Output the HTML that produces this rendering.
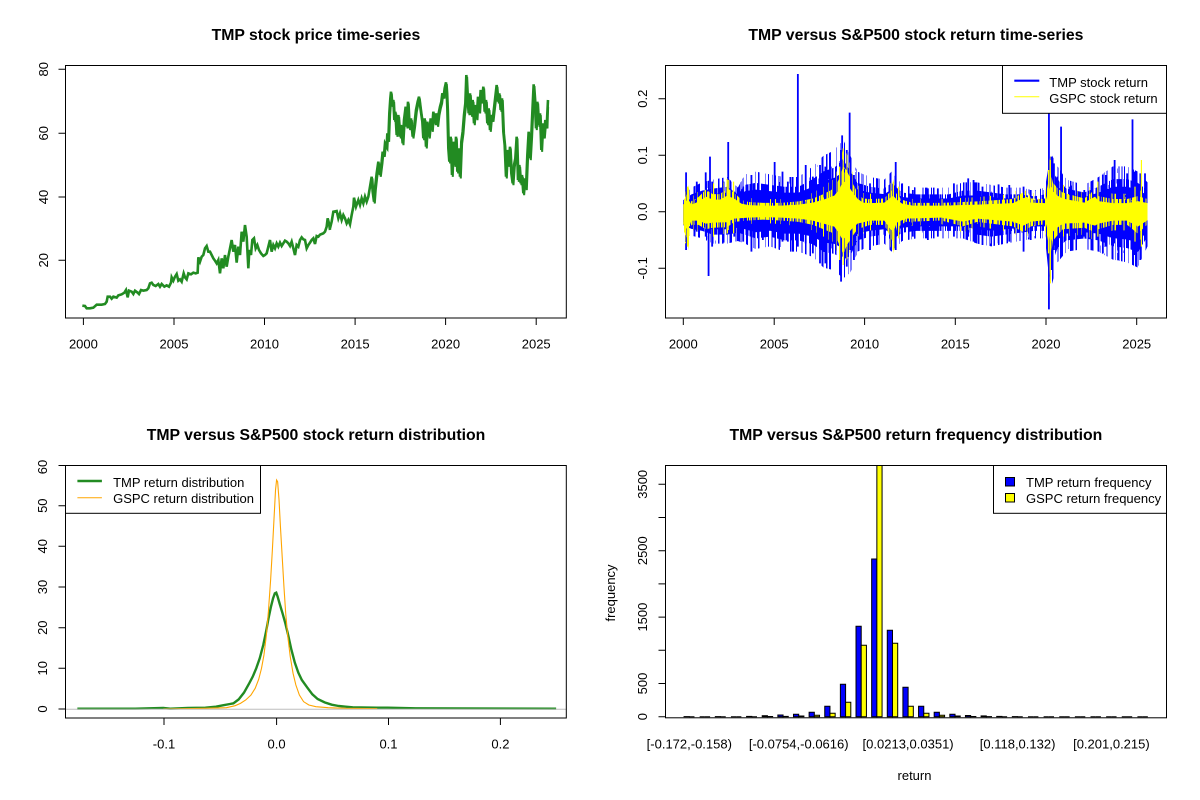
<!DOCTYPE html>
<html><head><meta charset="utf-8"><style>
html,body{margin:0;padding:0;background:#fff;}
svg{display:block;}
text{font-family:"Liberation Sans",Arial,sans-serif;fill:#000;}
.t{font-size:15.8px;font-weight:bold;}
.a{font-size:13px;}
.l{font-size:13px;}
</style></head><body>
<svg width="1200" height="800" viewBox="0 0 1200 800" xmlns="http://www.w3.org/2000/svg" xmlns:xlink="http://www.w3.org/1999/xlink">
<rect width="1200" height="800" fill="#fff"/>
<defs>
<clipPath id="cTR"><rect x="665.5" y="65.5" width="501" height="252.5"/></clipPath>
<clipPath id="cBR"><rect x="665.5" y="465" width="501" height="253"/></clipPath>
<filter id="nzA" filterUnits="userSpaceOnUse" x="660" y="60" width="512" height="265" color-interpolation-filters="sRGB">
 <feTurbulence type="fractalNoise" baseFrequency="0.45 0.0008" numOctaves="2" seed="7"/>
 <feColorMatrix type="matrix" values="0 0 0 0 1  0 0 0 0 1  0 0 0 0 1  1 0 0 0 0"/>
 <feComponentTransfer><feFuncA type="discrete" tableValues="0 0 0 0 0 0 0 0 0 1 1 1 1 1 1 1 1 1 1 1"/></feComponentTransfer>
</filter>
<filter id="nzB" filterUnits="userSpaceOnUse" x="660" y="60" width="512" height="265" color-interpolation-filters="sRGB">
 <feTurbulence type="fractalNoise" baseFrequency="0.5 0.0008" numOctaves="2" seed="19"/>
 <feColorMatrix type="matrix" values="0 0 0 0 1  0 0 0 0 1  0 0 0 0 1  1 0 0 0 0"/>
 <feComponentTransfer><feFuncA type="discrete" tableValues="0 0 0 0 0 0 0 0 0 0 0 1 1 1 1 1 1 1 1 1"/></feComponentTransfer>
</filter>
<filter id="nzC" filterUnits="userSpaceOnUse" x="660" y="60" width="512" height="265" color-interpolation-filters="sRGB">
 <feTurbulence type="fractalNoise" baseFrequency="0.55 0.0008" numOctaves="2" seed="31"/>
 <feColorMatrix type="matrix" values="0 0 0 0 1  0 0 0 0 1  0 0 0 0 1  1 0 0 0 0"/>
 <feComponentTransfer><feFuncA type="discrete" tableValues="0 0 0 0 0 0 0 0 0 0 1 1 1 1 1 1 1 1 1 1"/></feComponentTransfer>
</filter>
<filter id="nzD" filterUnits="userSpaceOnUse" x="660" y="60" width="512" height="265" color-interpolation-filters="sRGB">
 <feTurbulence type="fractalNoise" baseFrequency="0.6 0.0008" numOctaves="2" seed="43"/>
 <feColorMatrix type="matrix" values="0 0 0 0 1  0 0 0 0 1  0 0 0 0 1  1 0 0 0 0"/>
 <feComponentTransfer><feFuncA type="discrete" tableValues="0 0 0 0 0 0 0 0 0 0 0 0 0 1 1 1 1 1 1 1"/></feComponentTransfer>
</filter>
<mask id="mA" maskUnits="userSpaceOnUse" x="660" y="60" width="512" height="265"><rect x="660" y="60" width="512" height="265" fill="#fff" filter="url(#nzA)"/></mask>
<mask id="mB" maskUnits="userSpaceOnUse" x="660" y="60" width="512" height="265"><rect x="660" y="60" width="512" height="265" fill="#fff" filter="url(#nzB)"/></mask>
<mask id="mC" maskUnits="userSpaceOnUse" x="660" y="60" width="512" height="265"><rect x="660" y="60" width="512" height="265" fill="#fff" filter="url(#nzC)"/></mask>
<mask id="mD" maskUnits="userSpaceOnUse" x="660" y="60" width="512" height="265"><rect x="660" y="60" width="512" height="265" fill="#fff" filter="url(#nzD)"/></mask>
<polygon id="bp" points="177,455 200,440 230,430 260,425 300,420 330,440 350,415 380,410 420,415 460,420 500,420 540,400 570,380 600,370 625,350 645,380 665,410 700,420 740,425 760,410 790,435 830,440 870,440 920,440 960,430 1000,430 1040,435 1080,440 1120,440 1160,445 1190,440 1200,400 1210,380 1225,400 1250,425 1300,435 1340,420 1380,400 1420,400 1450,410 1477,430 1477,550 1450,590 1420,580 1380,575 1340,560 1300,555 1250,560 1225,580 1210,620 1200,600 1190,535 1160,535 1120,540 1080,545 1040,550 1000,545 960,535 920,535 870,535 830,535 790,540 760,560 740,545 700,550 665,560 645,600 625,610 600,595 570,590 540,570 500,560 460,560 420,550 380,555 350,545 330,540 300,545 260,545 230,535 200,530 177,520"/>
<polygon id="yp" points="177,450 190,420 200,450 220,435 240,410 260,425 280,425 300,405 320,420 340,445 360,452 400,455 450,455 500,450 540,440 570,425 600,405 615,370 625,330 635,345 650,385 665,420 680,440 700,442 740,440 765,405 775,425 790,445 820,455 900,455 1000,450 1100,442 1140,410 1150,440 1190,442 1200,380 1205,350 1212,385 1225,405 1240,420 1270,430 1300,440 1330,410 1340,432 1380,442 1420,442 1450,432 1477,442 1477,528 1450,560 1420,530 1380,530 1340,545 1330,555 1300,540 1240,545 1225,565 1212,585 1205,650 1200,595 1190,528 1150,535 1130,555 1100,535 1000,520 960,535 900,515 800,520 775,540 765,590 740,530 700,530 665,545 650,570 635,600 625,630 615,600 600,560 570,545 540,530 500,520 450,515 400,512 360,515 320,520 300,538 260,540 240,545 220,530 200,530 190,580 177,548"/>
</defs>

<!-- ================= TOP LEFT ================= -->
<text class="t" x="315.9" y="40" text-anchor="middle">TMP stock price time-series</text>
<g fill="none" stroke="#228B22" stroke-width="2.6" stroke-linejoin="miter">
<polyline vector-effect="non-scaling-stroke" transform="translate(65,140) scale(0.33333)" points="52,497 60,498 65,505 75,505 85,503 95,494 110,494 120,492 125,485 128,470 135,470 140,476 145,470 155,473 160,466 170,463 178,458 183,450 188,472 192,452 200,455 205,462 210,452 218,458 222,462 228,450 235,452 245,450 250,445 255,430 260,428 265,435 272,438 280,432 285,440 290,432 298,440 305,436 312,440 318,428 320,412 325,422 330,410 335,402 340,422 345,418 350,425 356,400 360,412 365,418 370,400 378,403 385,398 392,400 398,398 400,352 405,365 410,350 415,345 420,325 425,318 430,335 435,335 440,345 445,355 450,362 455,370 460,360 465,400 470,355 475,385 480,345 485,380 490,350 495,325 500,300 505,335 510,315 515,368 520,320 525,345 530,275 535,305 540,255 545,290 550,385 553,330 558,345 562,300 567,295 572,325 577,315 582,330 588,340 595,348 600,345 605,340 610,320 615,300 620,335 625,315 630,325 635,310 640,320 645,308 650,318 655,310 660,302 665,305 670,310 675,318 680,305 685,325 690,345 695,315 700,320 705,300 710,292 715,298 720,300 725,325 730,315 735,308 740,300 745,295 750,312 755,288 760,290 765,284 770,282 775,280 780,275 785,260 788,235 792,250 795,270"/>
<polyline vector-effect="non-scaling-stroke" transform="translate(330,65) scale(0.33333)" points="0,490 5,470 10,440 20,438 25,460 30,445 35,465 40,450 45,460 50,475 55,465 60,478 65,450 70,425 72,398 78,425 85,405 90,420 95,400 100,415 105,395 110,410 115,395 120,365 125,335 128,380 132,410 135,370 140,325 145,290 150,330 155,290 158,260 162,270 165,235 170,245 172,205 175,225 178,145 181,100 183,80 186,120 190,105 193,165 196,140 200,210 205,150 210,215 213,180 218,235 222,165 227,125 230,185 234,110 238,190 243,160 248,215 253,180 258,135 263,110 267,95 272,135 277,170 280,220 284,160 288,245 292,170 297,215 302,160 306,195 310,140 315,175 318,145 322,180 326,145 330,125 334,110 337,85 341,95 344,70 348,52 350,80 352,130 355,250 358,290 362,215 366,330 370,230 374,300 378,215 382,320 386,250 390,335 394,230 398,200 402,150 406,115 409,30 412,90 416,145 420,85 424,150 428,105 432,175 436,120 440,160 444,95 448,140 452,75 456,110 460,65 464,140 468,105 472,175 476,130 480,195 484,150 488,165 492,130 496,95 500,60 504,110 508,85 512,135 516,100 520,200 524,240 528,335 532,255 536,300 540,245 544,325 548,355 552,300 556,280 560,215 564,345 568,300 572,355 576,330 580,385 584,340 588,370 592,270 596,200 600,280 604,210 608,120 611,58 614,100 618,190 622,110 626,180 630,145 634,255 638,175 642,215 646,165 650,185 654,105"/>
<polyline vector-effect="non-scaling-stroke" stroke-width="2" transform="translate(330.8,66.8) scale(0.33333)" points="120,365 125,335 128,380 132,410 135,370 140,325 145,290 150,330 155,290 158,260 162,270 165,235 170,245 172,205 175,225 178,145 181,100 183,80 186,120 190,105 193,165 196,140 200,210 205,150 210,215 213,180 218,235 222,165 227,125 230,185 234,110 238,190 243,160 248,215 253,180 258,135 263,110 267,95 272,135 277,170 280,220 284,160 288,245 292,170 297,215 302,160 306,195 310,140 315,175 318,145 322,180 326,145 330,125 334,110 337,85 341,95 344,70 348,52 350,80 352,130 355,250 358,290 362,215 366,330 370,230 374,300 378,215 382,320 386,250 390,335 394,230 398,200 402,150 406,115 409,30 412,90 416,145 420,85 424,150 428,105 432,175 436,120 440,160 444,95 448,140 452,75 456,110 460,65 464,140 468,105 472,175 476,130 480,195 484,150 488,165 492,130 496,95 500,60 504,110 508,85 512,135 516,100 520,200 524,240 528,335 532,255 536,300 540,245 544,325 548,355 552,300 556,280 560,215 564,345 568,300 572,355 576,330 580,385 584,340 588,370 592,270 596,200 600,280 604,210 608,120 611,58 614,100 618,190 622,110 626,180 630,145 634,255 638,175 642,215 646,165 650,185 652,120"/>
</g>
<g stroke="#000" stroke-width="1" fill="none">
<rect x="65.5" y="65.5" width="500.8" height="252.5"/>
<path d="M83.4,318V325M174,318V325M264.5,318V325M355.1,318V325M445.6,318V325M536.2,318V325"/>
<path d="M65.5,69.3H58.5M65.5,133.3H58.5M65.5,197H58.5M65.5,260.3H58.5"/>
</g>
<g text-anchor="middle">
<text class="a" x="83.4" y="348.3">2000</text>
<text class="a" x="174" y="348.3">2005</text>
<text class="a" x="264.5" y="348.3">2010</text>
<text class="a" x="355.1" y="348.3">2015</text>
<text class="a" x="445.6" y="348.3">2020</text>
<text class="a" x="536.2" y="348.3">2025</text>
<text class="a" transform="translate(48,260.3) rotate(-90)">20</text>
<text class="a" transform="translate(48,197) rotate(-90)">40</text>
<text class="a" transform="translate(48,133.3) rotate(-90)">60</text>
<text class="a" transform="translate(48,69.3) rotate(-90)">80</text>
</g>

<!-- ================= TOP RIGHT ================= -->
<text class="t" x="915.9" y="40" text-anchor="middle">TMP versus S&amp;P500 stock return time-series</text>
<g clip-path="url(#cTR)">
<g mask="url(#mB)"><g transform="translate(620,50) scale(0.35714,0.33333)"><use xlink:href="#bp" href="#bp" fill="#0000FF" transform="translate(0,485) scale(1,1.6) translate(0,-485)"/></g></g>
<g mask="url(#mA)"><g transform="translate(620,50) scale(0.35714,0.33333)"><use xlink:href="#bp" href="#bp" fill="#0000FF" transform="translate(0,485) scale(1,1.15) translate(0,-485)"/></g></g>
<g transform="translate(620,50) scale(0.35714,0.33333)">
<use xlink:href="#bp" href="#bp" fill="#0000FF" transform="translate(0,485) scale(1,0.88) translate(0,-485)"/>
<path fill="none" stroke="#0000FF" stroke-width="1.8" vector-effect="non-scaling-stroke" d="M185,367V600M215,395V545M240,367V560M248,420V678M252,320V540M258,395V590M290,395V578M303,276V530M320,425V560M345,410V575M368,375V605M400,410V570M433,336V560M455,365V575M470,395V575M498,72V590M520,345V580M540,380V610M560,345V640M575,350V640M590,350V595M605,355V580M619,300V695M622,256V620M635,300V650M643,188V600M655,375V630M700,400V600M720,410V570M772,336V600M790,400V560M820,420V560M862,415V570M890,415V560M935,400V560M975,385V560M990,390V575M1015,410V585M1060,403V580M1090,405V575M1130,410V605M1150,420V570M1201,180V778M1208,320V660M1215,340V600M1225,380V590M1235,230V580M1260,410V570M1300,420V560M1340,395V580M1352,375V610M1360,375V590M1385,330V580M1396,390V630M1420,370V590M1435,208V600M1440,365V615M1457,370V630M1470,370V560"/>
</g>
<g mask="url(#mD)"><g transform="translate(620,50) scale(0.35714,0.33333)"><use xlink:href="#yp" href="#yp" fill="#FFFF00" transform="translate(0,485) scale(1,1.25) translate(0,-485)"/></g></g>
<g mask="url(#mC)"><g transform="translate(620,50) scale(0.35714,0.33333)"><use xlink:href="#yp" href="#yp" fill="#FFFF00" transform="translate(0,485) scale(1,0.88) translate(0,-485)"/></g></g>
<g transform="translate(620,50) scale(0.35714,0.33333)">
<use xlink:href="#yp" href="#yp" fill="#FFFF00" transform="translate(0,485) scale(1,0.6) translate(0,-485)"/>
<path fill="none" stroke="#FFFF00" stroke-width="1.2" vector-effect="non-scaling-stroke" d="M625,295V645M1205,330V700M1460,330V590M189,410V590M303,390V540M765,395V600M615,350V630M1200,360V610M262,400V560M318,395V550M780,410V565M1338,395V560M1442,410V575"/>
</g>
</g>
<g stroke="#000" stroke-width="1" fill="none">
<rect x="665.5" y="65.5" width="501" height="252.5"/>
<path d="M683.3,318V325M774.2,318V325M864.6,318V325M955.3,318V325M1046,318V325M1136.7,318V325"/>
<path d="M665.5,98.7H658.5M665.5,155.3H658.5M665.5,211.7H658.5M665.5,268.3H658.5"/>
</g>
<g text-anchor="middle">
<text class="a" x="683.3" y="348.3">2000</text>
<text class="a" x="774.2" y="348.3">2005</text>
<text class="a" x="864.6" y="348.3">2010</text>
<text class="a" x="955.3" y="348.3">2015</text>
<text class="a" x="1046" y="348.3">2020</text>
<text class="a" x="1136.7" y="348.3">2025</text>
<text class="a" transform="translate(646.8,268.3) rotate(-90)">-0.1</text>
<text class="a" transform="translate(646.8,211.7) rotate(-90)">0.0</text>
<text class="a" transform="translate(646.8,155.3) rotate(-90)">0.1</text>
<text class="a" transform="translate(646.8,98.7) rotate(-90)">0.2</text>
</g>
<rect x="1002.5" y="65.5" width="164" height="47.8" fill="#fff" stroke="#000" stroke-width="1"/>
<line x1="1014.3" y1="80.7" x2="1039.3" y2="80.7" stroke="#0000FF" stroke-width="2.2"/>
<line x1="1014.3" y1="96.7" x2="1039.3" y2="96.7" stroke="#FFFF00" stroke-width="1"/>
<text class="l" x="1049.3" y="86.8">TMP stock return</text>
<text class="l" x="1049.3" y="102.8">GSPC stock return</text>

<!-- ================= BOTTOM LEFT ================= -->
<text class="t" x="316" y="440" text-anchor="middle">TMP versus S&amp;P500 stock return distribution</text>
<g transform="translate(30,450) scale(0.35075,0.33333)" fill="none">
<polyline vector-effect="non-scaling-stroke" stroke="#228B22" stroke-width="2.4" points="135,776 300,776 380,774 400,776 450,774 500,773 530,770 550,766 570,762 580,760 595,748 610,728 625,700 635,680 645,655 655,625 665,585 673,545 680,505 687,470 693,445 698,430 702,428 706,440 712,462 720,490 728,520 736,555 745,598 755,638 765,668 775,690 790,712 805,733 820,747 840,757 860,764 880,768 900,770 920,772 990,773 1020,773 1100,775 1500,776"/>
<polyline vector-effect="non-scaling-stroke" stroke="#FFA500" stroke-width="1.1" points="380,777 500,775 560,773 585,767 600,760 615,750 630,735 642,715 652,688 660,655 667,615 674,555 680,480 686,390 691,300 696,200 700,120 703,90 706,95 710,150 714,230 719,320 724,410 729,490 735,560 742,620 750,670 758,705 768,735 780,755 795,765 815,770 850,773 900,775 990,776"/>
</g>
<line x1="65.5" y1="709.3" x2="566.3" y2="709.3" stroke="#BEBEBE" stroke-width="1"/>
<g stroke="#000" stroke-width="1" fill="none">
<rect x="65.5" y="465.5" width="500.8" height="252.5"/>
<path d="M164,718V725M276.6,718V725M388.5,718V725M500.4,718V725"/>
<path d="M65.5,709H58.5M65.5,668.3H58.5M65.5,627.7H58.5M65.5,587H58.5M65.5,546.3H58.5M65.5,505.7H58.5M65.5,465.5H58.5"/>
</g>
<g text-anchor="middle">
<text class="a" x="164" y="748.3">-0.1</text>
<text class="a" x="276.6" y="748.3">0.0</text>
<text class="a" x="388.5" y="748.3">0.1</text>
<text class="a" x="500.4" y="748.3">0.2</text>
<text class="a" transform="translate(47,709) rotate(-90)">0</text>
<text class="a" transform="translate(47,668.3) rotate(-90)">10</text>
<text class="a" transform="translate(47,627.7) rotate(-90)">20</text>
<text class="a" transform="translate(47,587) rotate(-90)">30</text>
<text class="a" transform="translate(47,546.3) rotate(-90)">40</text>
<text class="a" transform="translate(47,505.7) rotate(-90)">50</text>
<text class="a" transform="translate(47,467) rotate(-90)">60</text>
</g>
<rect x="65.5" y="465.5" width="195" height="47.8" fill="#fff" stroke="#000" stroke-width="1"/>
<line x1="77.4" y1="481" x2="101.9" y2="481" stroke="#228B22" stroke-width="2.4"/>
<line x1="77.4" y1="497.7" x2="101.9" y2="497.7" stroke="#FFA500" stroke-width="1"/>
<text class="l" x="113.1" y="486.8">TMP return distribution</text>
<text class="l" x="113.1" y="502.8">GSPC return distribution</text>

<!-- ================= BOTTOM RIGHT ================= -->
<text class="t" x="915.9" y="440" text-anchor="middle">TMP versus S&amp;P500 return frequency distribution</text>
<g clip-path="url(#cBR)" stroke="#000" stroke-width="1">
<g fill="#0000FF">
<path d="M684.05,716.7V716.6H689.26V716.7Z"/>
<path d="M699.68,716.7V716.7H704.89V716.7Z"/>
<path d="M715.32,716.7V716.6H720.53V716.7Z"/>
<path d="M730.95,716.7V716.7H736.16V716.7Z"/>
<path d="M746.58,716.7V716.4H751.79V716.7Z"/>
<path d="M762.22,716.7V715.7H767.43V716.7Z"/>
<path d="M777.85,716.7V715H783.06V716.7Z"/>
<path d="M793.48,716.7V714.2H798.69V716.7Z"/>
<path d="M809.11,716.7V712.2H814.32V716.7Z"/>
<path d="M824.75,716.7V706.2H829.96V716.7Z"/>
<path d="M840.38,716.7V684.3H845.59V716.7Z"/>
<path d="M856.01,716.7V626.2H861.22V716.7Z"/>
<path d="M871.65,716.7V559H876.86V716.7Z"/>
<path d="M887.28,716.7V630.2H892.49V716.7Z"/>
<path d="M902.91,716.7V687.2H908.12V716.7Z"/>
<path d="M918.55,716.7V706.2H923.76V716.7Z"/>
<path d="M934.18,716.7V712.2H939.39V716.7Z"/>
<path d="M949.81,716.7V714.2H955.02V716.7Z"/>
<path d="M965.44,716.7V715.5H970.65V716.7Z"/>
<path d="M981.08,716.7V715.9H986.29V716.7Z"/>
<path d="M996.71,716.7V716.4H1001.92V716.7Z"/>
<path d="M1012.34,716.7V716.6H1017.55V716.7Z"/>
<path d="M1027.98,716.7V716.7H1033.19V716.7Z"/>
<path d="M1043.61,716.7V716.7H1048.82V716.7Z"/>
<path d="M1059.24,716.7V716.7H1064.45V716.7Z"/>
<path d="M1074.87,716.7V716.7H1080.08V716.7Z"/>
<path d="M1090.51,716.7V716.7H1095.72V716.7Z"/>
<path d="M1106.14,716.7V716.7H1111.35V716.7Z"/>
<path d="M1121.77,716.7V716.7H1126.98V716.7Z"/>
<path d="M1137.41,716.7V716.7H1142.62V716.7Z"/>
</g>
<g fill="#FFFF00">
<path d="M689.26,716.7V716.7H694.47V716.7Z"/>
<path d="M704.89,716.7V716.7H710.1V716.7Z"/>
<path d="M720.53,716.7V716.7H725.74V716.7Z"/>
<path d="M736.16,716.7V716.7H741.37V716.7Z"/>
<path d="M751.79,716.7V716.7H757V716.7Z"/>
<path d="M767.43,716.7V716.5H772.64V716.7Z"/>
<path d="M783.06,716.7V716.4H788.27V716.7Z"/>
<path d="M798.69,716.7V716H803.9V716.7Z"/>
<path d="M814.32,716.7V715.2H819.53V716.7Z"/>
<path d="M829.96,716.7V713.2H835.17V716.7Z"/>
<path d="M845.59,716.7V702.3H850.8V716.7Z"/>
<path d="M861.22,716.7V645.2H866.43V716.7Z"/>
<path d="M876.86,716.7V460H882.07V716.7Z"/>
<path d="M892.49,716.7V643.2H897.7V716.7Z"/>
<path d="M908.12,716.7V706.2H913.33V716.7Z"/>
<path d="M923.76,716.7V713.2H928.97V716.7Z"/>
<path d="M939.39,716.7V715.2H944.6V716.7Z"/>
<path d="M955.02,716.7V716H960.23V716.7Z"/>
<path d="M970.65,716.7V716.5H975.86V716.7Z"/>
<path d="M986.29,716.7V716.6H991.5V716.7Z"/>
<path d="M1001.92,716.7V716.7H1007.13V716.7Z"/>
<path d="M1017.55,716.7V716.7H1022.76V716.7Z"/>
<path d="M1033.19,716.7V716.7H1038.4V716.7Z"/>
<path d="M1048.82,716.7V716.7H1054.03V716.7Z"/>
<path d="M1064.45,716.7V716.7H1069.66V716.7Z"/>
<path d="M1080.08,716.7V716.7H1085.29V716.7Z"/>
<path d="M1095.72,716.7V716.7H1100.93V716.7Z"/>
<path d="M1111.35,716.7V716.7H1116.56V716.7Z"/>
<path d="M1126.98,716.7V716.7H1132.19V716.7Z"/>
<path d="M1142.62,716.7V716.7H1147.83V716.7Z"/>
</g>
</g>
<g stroke="#000" stroke-width="1" fill="none">
<rect x="665.5" y="465.5" width="501" height="252.3"/>
<path d="M665.5,716.7H658.5M665.5,683.5H658.5M665.5,650.3H658.5M665.5,617.1H658.5M665.5,583.9H658.5M665.5,550.7H658.5M665.5,517.5H658.5M665.5,484.3H658.5"/>
</g>
<g text-anchor="middle">
<text class="a" transform="translate(647,716.7) rotate(-90)">0</text>
<text class="a" transform="translate(647,683.5) rotate(-90)">500</text>
<text class="a" transform="translate(647,617.1) rotate(-90)">1500</text>
<text class="a" transform="translate(647,550.7) rotate(-90)">2500</text>
<text class="a" transform="translate(647,484.3) rotate(-90)">3500</text>
<text class="a" x="689.3" y="748.3">[-0.172,-0.158)</text>
<text class="a" x="798.7" y="748.3">[-0.0754,-0.0616)</text>
<text class="a" x="908.1" y="748.3">[0.0213,0.0351)</text>
<text class="a" x="1017.6" y="748.3">[0.118,0.132)</text>
<text class="a" x="1111.4" y="748.3">[0.201,0.215)</text>
<text class="a" x="914.5" y="780">return</text>
<text class="a" transform="translate(615,593) rotate(-90)">frequency</text>
</g>
<rect x="993.5" y="465.5" width="173" height="47.8" fill="#fff" stroke="#000" stroke-width="1"/>
<rect x="1005.5" y="477.5" width="9" height="8.5" fill="#0000FF" stroke="#000" stroke-width="1"/>
<rect x="1005.5" y="493.5" width="9" height="8.5" fill="#FFFF00" stroke="#000" stroke-width="1"/>
<text class="l" x="1026" y="486.8">TMP return frequency</text>
<text class="l" x="1026" y="502.8">GSPC return frequency</text>
</svg>
</body></html>
